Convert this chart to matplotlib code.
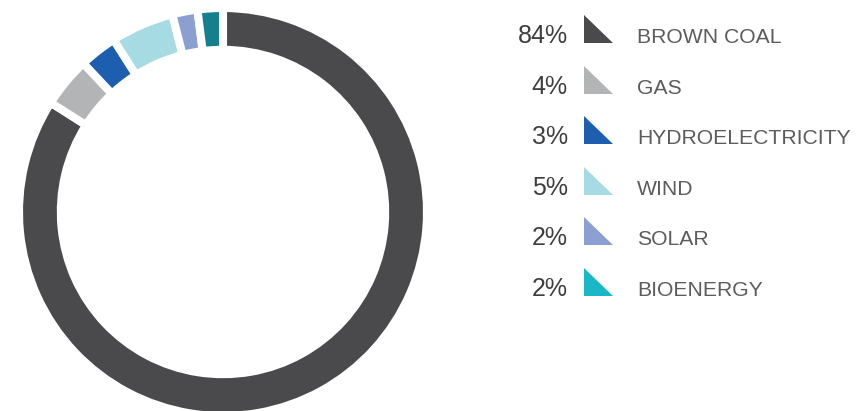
import matplotlib.pyplot as plt
from matplotlib.patches import Polygon

# data
sources = ['BROWN COAL', 'GAS', 'HYDROELECTRICITY', 'WIND', 'SOLAR', 'BIOENERGY']
shares = [84, 4, 3, 5, 2, 2]
ring_colors = ['#4a4a4c', '#b2b4b6', '#1d5fae', '#a6dbe4', '#8c9fd1', '#14808e']
key_colors = ['#4a4a4c', '#b2b4b6', '#1d5fae', '#a6dbe4', '#8c9fd1', '#1ab8c6']

W, H = 864, 411
fig = plt.figure(figsize=(W / 100, H / 100), dpi=100)
fig.patch.set_facecolor('white')

# donut: centre (223, 212) px, radius 204 px
cx, cy, r = 223, 212, 204
ax = fig.add_axes([(cx - r) / W, (H - cy - r) / H, 2 * r / W, 2 * r / H])
ax.pie(shares, colors=ring_colors, startangle=90, counterclock=False,
       radius=1.0,
       wedgeprops=dict(width=0.205, edgecolor='white', linewidth=5.8))
ax.set_xlim(-1, 1)
ax.set_ylim(-1, 1)
ax.set_aspect('equal')
ax.axis('off')

# legend drawn in pixel coords
lg = fig.add_axes([0, 0, 1, 1])
lg.set_xlim(0, W)
lg.set_ylim(H, 0)
lg.axis('off')
lg.patch.set_alpha(0)

for i, (name, val, col) in enumerate(zip(sources, shares, key_colors)):
    base = 43 + 50.6 * i
    lg.text(568, base, f'{val}%', ha='right', va='baseline', fontsize=18,
            family='Liberation Sans', color='#3e3e40')
    lg.add_patch(Polygon([[584, base - 28], [584, base], [613, base]],
                         closed=True, facecolor=col, edgecolor='none'))
    lg.text(637, base, name, ha='left', va='baseline', fontsize=15.2,
            family='Liberation Sans', color='#5c5c5e')

fig.savefig('out.png', dpi=100, facecolor='white')
